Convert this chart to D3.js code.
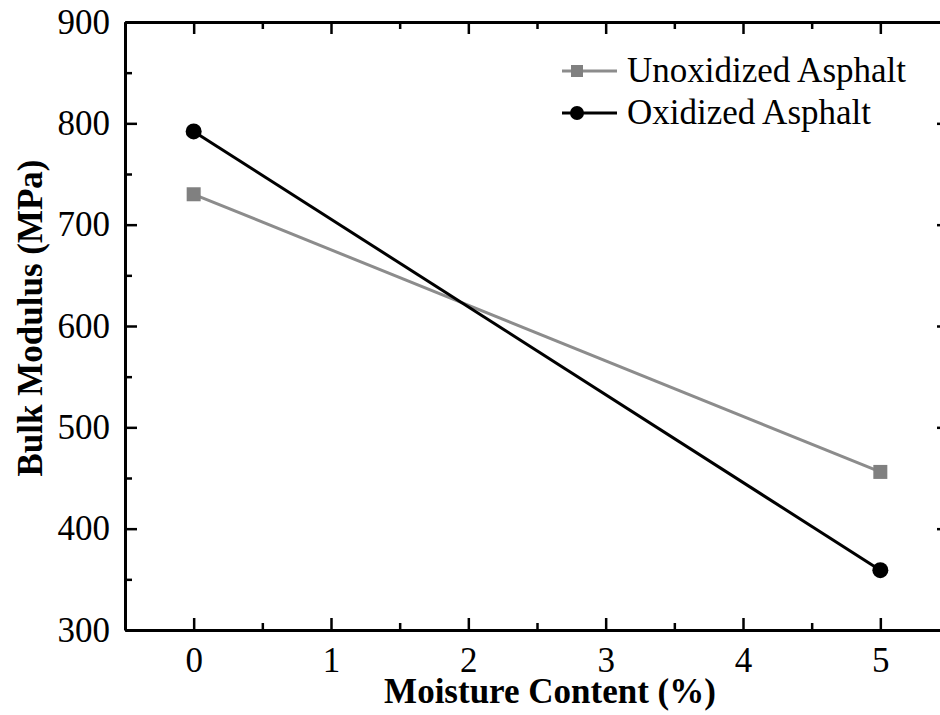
<!DOCTYPE html>
<html>
<head>
<meta charset="utf-8">
<script src="https://cdn.jsdelivr.net/npm/d3@7"></script>
<style>
  html, body { margin: 0; padding: 0; background: #fff; }
  svg { display: block; }
  text { font-family: "Liberation Serif", "Times New Roman", serif; fill: #000; }
</style>
</head>
<body>
<div id="chart"></div>
<script>
// ---- data ----
const moisture = [0, 5];
const unoxidized = [730, 456];
const oxidized = [792, 359];
const seriesNames = ["Unoxidized Asphalt", "Oxidized Asphalt"];
const xTicks = [0, 1, 2, 3, 4, 5];
const xMinorTicks = [-0.5, 0.5, 1.5, 2.5, 3.5, 4.5, 5.5];
const yTicks = [300, 400, 500, 600, 700, 800, 900];
const yMinorTicks = [350, 450, 550, 650, 750, 850];
const xTitle = "Moisture Content (%)";
const yTitle = "Bulk Modulus (MPa)";

const W = 940, H = 715;
const L = 125, R = 949, T = 22, B = 630;

const svg = d3.select("#chart").append("svg").attr("width", W).attr("height", H);

const x = d3.scaleLinear().domain([-0.5, 5.5]).range([L, R]);
const y = d3.scaleLinear().domain([300, 900]).range([B, T]);

function styleAxis(g) {
  g.selectAll(".domain").attr("stroke", "#000").attr("stroke-width", 3);
  g.selectAll(".tick line").attr("stroke", "#000").attr("stroke-width", 2.5);
  g.selectAll(".tick text").style("font-size", "35px").style("font-family", '"Liberation Serif", serif').attr("fill", "#000");
}

// bottom
svg.append("g").attr("transform", `translate(0,${B})`)
  .call(d3.axisBottom(x).tickValues(xTicks).tickFormat(d3.format("d")).tickSizeInner(-12).tickSizeOuter(0).tickPadding(17))
  .call(styleAxis);
svg.append("g").attr("transform", `translate(0,${B})`)
  .call(d3.axisBottom(x).tickValues(xMinorTicks).tickFormat("").tickSizeInner(-7).tickSizeOuter(0))
  .call(styleAxis).select(".domain").remove();
// top
svg.append("g").attr("transform", `translate(0,${T})`)
  .call(d3.axisTop(x).tickValues(xTicks).tickFormat("").tickSizeInner(-12).tickSizeOuter(0))
  .call(styleAxis);
svg.append("g").attr("transform", `translate(0,${T})`)
  .call(d3.axisTop(x).tickValues(xMinorTicks).tickFormat("").tickSizeInner(-7).tickSizeOuter(0))
  .call(styleAxis).select(".domain").remove();
// left
svg.append("g").attr("transform", `translate(${L},0)`)
  .call(d3.axisLeft(y).tickValues(yTicks).tickFormat(d3.format("d")).tickSizeInner(-12).tickSizeOuter(0).tickPadding(15))
  .call(styleAxis);
svg.append("g").attr("transform", `translate(${L},0)`)
  .call(d3.axisLeft(y).tickValues(yMinorTicks).tickFormat("").tickSizeInner(-7).tickSizeOuter(0))
  .call(styleAxis).select(".domain").remove();
// right
svg.append("g").attr("transform", `translate(${R},0)`)
  .call(d3.axisRight(y).tickValues(yTicks).tickFormat("").tickSizeInner(-12).tickSizeOuter(0))
  .call(styleAxis);
svg.append("g").attr("transform", `translate(${R},0)`)
  .call(d3.axisRight(y).tickValues(yMinorTicks).tickFormat("").tickSizeInner(-7).tickSizeOuter(0))
  .call(styleAxis).select(".domain").remove();

// titles
svg.append("text").attr("x", 550).attr("y", 703).attr("text-anchor", "middle")
  .style("font-size", "35px").style("font-weight", "bold").text(xTitle);
svg.append("text").attr("transform", `translate(42,318) rotate(-90)`).attr("text-anchor", "middle")
  .style("font-size", "35px").style("font-weight", "bold").text(yTitle);

// series
const line = d3.line().x(d => x(d[0])).y(d => y(d[1]));
const unoxData = moisture.map((m, i) => [m, unoxidized[i]]);
const oxData = moisture.map((m, i) => [m, oxidized[i]]);

svg.append("path").datum(unoxData).attr("d", line).attr("fill", "none").attr("stroke", "#8c8c8c").attr("stroke-width", 3);
svg.append("path").datum(oxData).attr("d", line).attr("fill", "none").attr("stroke", "#000").attr("stroke-width", 3);

svg.selectAll("rect.unox").data(unoxData).enter().append("rect").attr("class", "unox")
  .attr("x", d => x(d[0]) - 7).attr("y", d => y(d[1]) - 7).attr("width", 14).attr("height", 14).attr("fill", "#808080");
svg.selectAll("circle.ox").data(oxData).enter().append("circle").attr("class", "ox")
  .attr("cx", d => x(d[0])).attr("cy", d => y(d[1])).attr("r", 8).attr("fill", "#000");

// legend
const lg = svg.append("g");
const legY = [71, 113];
lg.append("line").attr("x1", 562).attr("x2", 617).attr("y1", legY[0]).attr("y2", legY[0]).attr("stroke", "#8c8c8c").attr("stroke-width", 3);
lg.append("rect").attr("x", 577 - 6).attr("y", legY[0] - 6).attr("width", 12).attr("height", 12).attr("fill", "#808080");
lg.append("line").attr("x1", 562).attr("x2", 617).attr("y1", legY[1]).attr("y2", legY[1]).attr("stroke", "#000").attr("stroke-width", 3);
lg.append("circle").attr("cx", 577).attr("cy", legY[1]).attr("r", 7).attr("fill", "#000");
lg.append("text").attr("x", 627).attr("y", 82).style("font-size", "35px").text(seriesNames[0]);
lg.append("text").attr("x", 627).attr("y", 124).style("font-size", "35px").text(seriesNames[1]);
</script>
</body>
</html>
